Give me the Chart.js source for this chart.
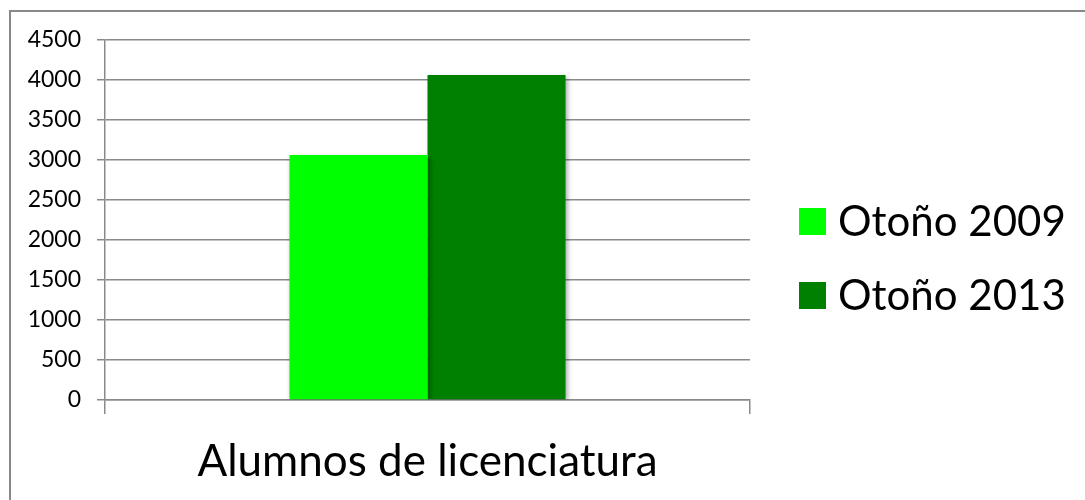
<!DOCTYPE html>
<html>
<head>
<meta charset="utf-8">
<script src="https://cdn.jsdelivr.net/npm/chart.js@4"></script>
<style>
  html, body { margin: 0; padding: 0; background: #fff; overflow: hidden; }
  #wrap { position: relative; width: 1085px; height: 500px; }
  #legend { position: absolute; left: 0; top: 0; font-family: Lato, sans-serif; }
  .item { position: absolute; left: 799px; height: 42px; white-space: nowrap; }
  .box { position: absolute; left: 0; width: 27px; height: 27px; }
  .txt { position: absolute; left: 39px; top: 0; font-size: 42px; line-height: 42px; color: #000; }
</style>
</head>
<body>
<div id="wrap">
  <canvas id="c" width="1085" height="500"></canvas>
  <div id="legend"></div>
</div>
<script>
const categories = ["Alumnos de licenciatura"];
const seriesNames = ["Otoño 2009", "Otoño 2013"];
const otono2009 = [3062];
const otono2013 = [4062];
const seriesColors = ["#00ff00", "#008000"];
const yTicks = [0, 500, 1000, 1500, 2000, 2500, 3000, 3500, 4000, 4500];

const gridColor = "#8a8a8a";

const frame = {
  id: "frame",
  beforeDraw(chart) {
    const ctx = chart.ctx;
    ctx.save();
    ctx.fillStyle = "#fff";
    ctx.fillRect(0, 0, chart.width, chart.height);
    ctx.strokeStyle = "#888";
    ctx.lineWidth = 2;
    ctx.strokeRect(10, 11, 3000, 3000);
    ctx.restore();
  },
  beforeDatasetsDraw(chart) {
    const ctx = chart.ctx;
    ctx.save();
    ctx.shadowColor = "rgba(0,0,0,0.35)";
    ctx.shadowBlur = 5;
    ctx.shadowOffsetX = 2;
    ctx.shadowOffsetY = 2;
  },
  afterDatasetsDraw(chart) {
    chart.ctx.restore();
  }
};

new Chart(document.getElementById("c"), {
  type: "bar",
  data: {
    labels: categories,
    datasets: [
      { label: seriesNames[0], data: otono2009, backgroundColor: seriesColors[0], borderWidth: 0 },
      { label: seriesNames[1], data: otono2013, backgroundColor: seriesColors[1], borderWidth: 0 }
    ]
  },
  options: {
    responsive: false,
    animation: false,
    devicePixelRatio: 1,
    barPercentage: 1,
    categoryPercentage: 0.428,
    layout: { padding: { left: 0, right: 335, top: 40, bottom: 0 } },
    plugins: { legend: { display: false }, tooltip: { enabled: false } },
    scales: {
      y: {
        min: 0, max: 4500,
        afterBuildTicks(scale) { scale.ticks = yTicks.map(v => ({ value: v })); },
        afterFit(scale) { scale.width = 105; },
        ticks: { color: "#000", font: { family: "Lato", size: 23 }, padding: 16,
                 callback: (v) => String(v) },
        grid: { color: gridColor, lineWidth: 1.5, tickLength: 8, drawTicks: true },
        border: { color: gridColor, width: 1.5 }
      },
      x: {
        afterFit(scale) { scale.height = 100; },
        ticks: { color: "#000", font: { family: "Lato", size: 44 }, padding: 21 },
        grid: { color: gridColor, lineWidth: 1.5, drawOnChartArea: false, tickLength: 14, offset: true },
        border: { color: gridColor, width: 1.5 }
      }
    }
  },
  plugins: [frame]
});

const legend = document.getElementById("legend");
seriesNames.forEach((name, i) => {
  const item = document.createElement("div");
  item.className = "item";
  item.style.top = (199 + i * 74) + "px";
  const box = document.createElement("div");
  box.className = "box";
  box.style.top = "9px";
  box.style.background = seriesColors[i];
  const txt = document.createElement("div");
  txt.className = "txt";
  txt.textContent = name;
  item.appendChild(box);
  item.appendChild(txt);
  legend.appendChild(item);
});
</script>
</body>
</html>
